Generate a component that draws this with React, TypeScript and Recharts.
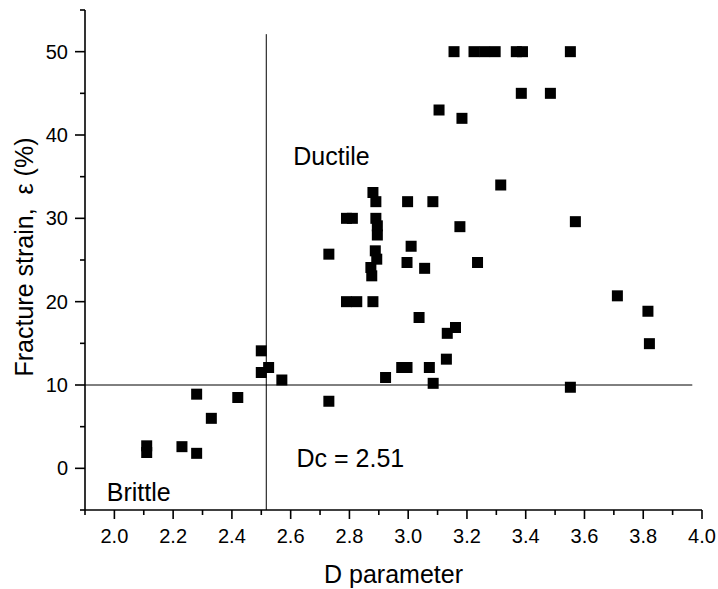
import { ScatterChart, Scatter, XAxis, YAxis, ReferenceLine, ReferenceDot } from 'recharts'

// D parameter vs fracture strain (%)
const dParam = [
  2.11, 2.11, 2.23, 2.28, 2.28, 2.33, 2.42, 2.5, 2.5, 2.525,
  2.57, 2.73, 2.73, 2.79, 2.81, 2.79, 2.825, 2.88, 2.88, 2.89,
  2.89, 2.895, 2.895, 2.888, 2.893, 2.873, 2.876, 2.923, 2.978, 2.996,
  2.998, 2.996, 3.01, 3.037, 3.056, 3.072, 3.085, 3.084, 3.105, 3.13,
  3.133, 3.161, 3.156, 3.176, 3.183, 3.224, 3.26, 3.296, 3.236, 3.315,
  3.368, 3.389, 3.385, 3.484, 3.552, 3.569, 3.552, 3.712, 3.816, 3.821,
]
const strain = [
  2.7, 1.9, 2.6, 1.8, 8.9, 6.0, 8.5, 14.1, 11.5, 12.1,
  10.6, 8.05, 25.7, 30.0, 30.0, 20.0, 20.0, 20.0, 33.1, 32.0,
  30.0, 29.1, 28.0, 26.1, 25.1, 24.1, 23.1, 10.9, 12.1, 12.1,
  32.0, 24.7, 26.65, 18.1, 24.0, 12.1, 10.2, 32.0, 43.0, 13.1,
  16.2, 16.9, 50.0, 29.0, 42.0, 50.0, 50.0, 50.0, 24.7, 34.0,
  50.0, 50.0, 45.0, 45.0, 50.0, 29.6, 9.73, 20.7, 18.85, 14.96,
]

const xTicks = [1.9, 2.0, 2.1, 2.2, 2.3, 2.4, 2.5, 2.6, 2.7, 2.8, 2.9, 3.0, 3.1, 3.2, 3.3, 3.4, 3.5, 3.6, 3.7, 3.8, 3.9, 4.0]
const yTicks = [-5, 0, 5, 10, 15, 20, 25, 30, 35, 40, 45, 50, 55]

const DC = 2.517
const STRAIN_CUT = 10

const points = dParam.map((d, i) => ({ d, s: strain[i] }))

const FONT = '"Liberation Sans", Arial, sans-serif'

const Square = (props: any) => {
  const { cx, cy } = props
  if (cx == null || cy == null) return null
  return <rect x={cx - 5.5} y={cy - 5.5} width={11} height={11} fill="#000" />
}

const XTick = (props: any) => {
  const { x, y, payload } = props
  const v = payload.value as number
  const major = Math.round(v * 10) % 2 === 0
  return (
    <g>
      <line x1={x} y1={y} x2={x} y2={y + (major ? 9 : 5)} stroke="#000" strokeWidth={1.6} />
      {major && (
        <text x={x} y={y + 33} textAnchor="middle" fontSize={20} fill="#000">
          {v.toFixed(1)}
        </text>
      )}
    </g>
  )
}

const YTick = (props: any) => {
  const { x, y, payload } = props
  const v = payload.value as number
  const major = v % 10 === 0
  return (
    <g>
      <line x1={x} y1={y} x2={x - (major ? 10 : 5)} y2={y} stroke="#000" strokeWidth={1.6} />
      {major && (
        <text x={x - 17} y={y + 7} textAnchor="end" fontSize={20} fill="#000">
          {v}
        </text>
      )}
    </g>
  )
}

const YTitle = () => (
  <text
    transform="translate(33,257) rotate(-90)"
    textAnchor="middle"
    fontSize={25}
    fill="#000"
    style={{ whiteSpace: 'pre' }}
  >
    Fracture strain,  ε (%)
  </text>
)

const note = (text: string) => (p: any) => (
  <text x={p.cx} y={p.cy} fontSize={25} fill="#000" style={{ whiteSpace: 'pre' }}>
    {text}
  </text>
)

export default function App() {
  return (
    <div style={{ position: 'absolute', left: 0, top: 0, background: '#fff', fontFamily: FONT }}>
      <ScatterChart
        width={718}
        height={589}
        margin={{ top: 10, right: 16, left: 0, bottom: 0 }}
        style={{ fontFamily: FONT }}
      >
        <XAxis
          type="number"
          dataKey="d"
          domain={[1.9, 4.0]}
          ticks={xTicks}
          interval={0}
          allowDataOverflow
          height={79}
          tickSize={0}
          tickMargin={0}
          tickLine={false}
          tick={<XTick />}
          axisLine={{ stroke: '#000', strokeWidth: 1.6 }}
          label={{ value: 'D parameter', position: 'insideBottom', offset: 6, fontSize: 25, fill: '#000' }}
        />
        <YAxis
          type="number"
          dataKey="s"
          domain={[-5, 55]}
          ticks={yTicks}
          interval={0}
          allowDataOverflow
          width={85}
          tickSize={0}
          tickMargin={0}
          tickLine={false}
          tick={<YTick />}
          axisLine={{ stroke: '#000', strokeWidth: 1.6 }}
          label={<YTitle />}
        />
        <ReferenceLine
          segment={[{ x: DC, y: -5 }, { x: DC, y: 52.1 }]}
          stroke="#000"
          strokeWidth={1}
        />
        <ReferenceLine
          segment={[{ x: 1.9, y: STRAIN_CUT }, { x: 3.967, y: STRAIN_CUT }]}
          stroke="#000"
          strokeWidth={1}
        />
        <ReferenceDot x={2.609} y={36.4} r={0} shape={note('Ductile')} />
        <ReferenceDot x={2.62} y={0.13} r={0} shape={note('Dc = 2.51')} />
        <ReferenceDot x={1.974} y={-3.88} r={0} shape={note('Brittle')} />
        <Scatter data={points} fill="#000" shape={<Square />} isAnimationActive={false} />
      </ScatterChart>
    </div>
  )
}
